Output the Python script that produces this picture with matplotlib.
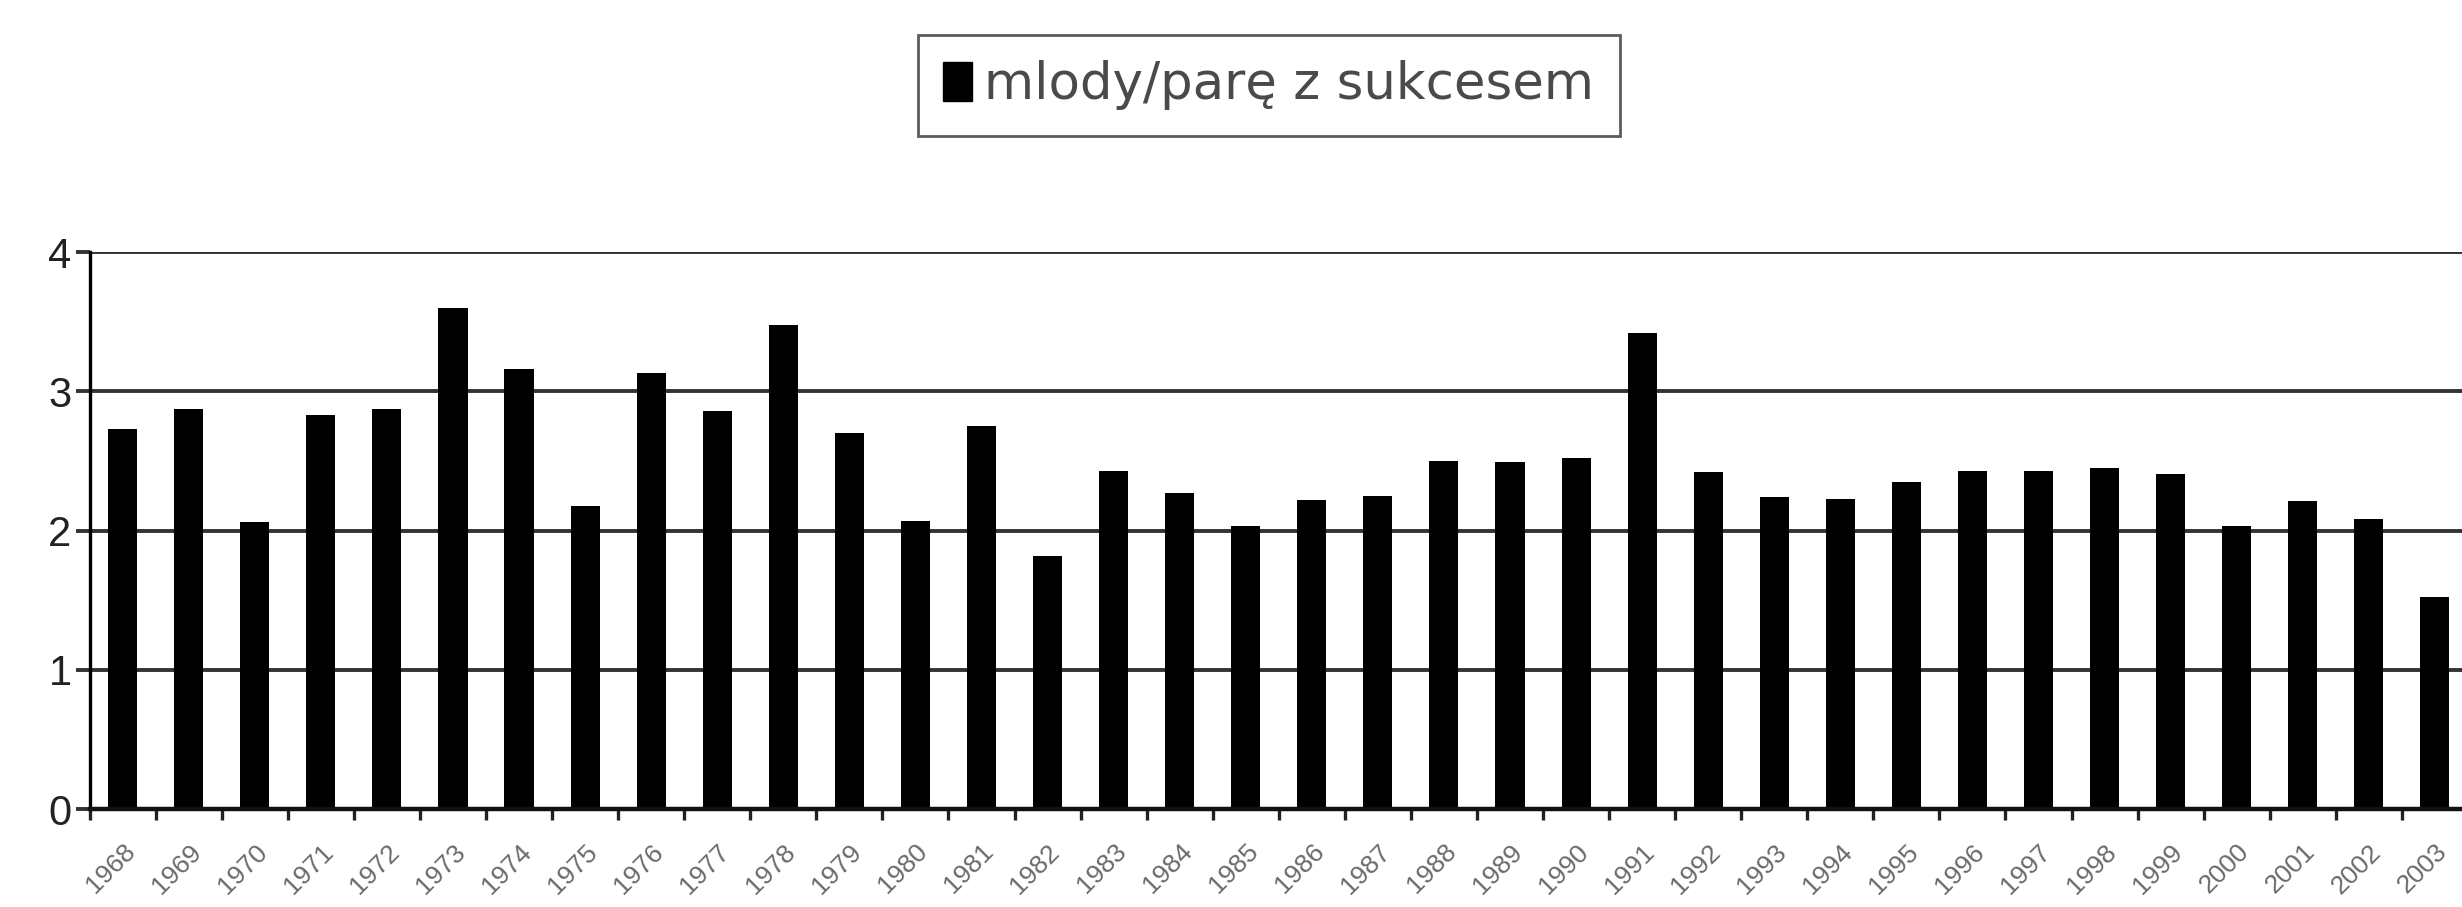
import numpy as np
import matplotlib
matplotlib.use("Agg")
import matplotlib.pyplot as plt
from matplotlib.patches import Patch

# lata i liczba mlodych na pare z sukcesem (odczyt z wykresu)
years = list(range(1968, 2004))
young = [2.73, 2.87, 2.06, 2.83, 2.87, 3.60, 3.16, 2.18, 3.13, 2.86,
         3.48, 2.70, 2.07, 2.75, 1.82, 2.43, 2.27, 2.03, 2.22, 2.25,
         2.50, 2.49, 2.52, 3.42, 2.42, 2.24, 2.23, 2.35, 2.43, 2.43,
         2.45, 2.41, 2.03, 2.21, 2.08, 1.52]
y_ticks = [0, 1, 2, 3, 4]
series_name = "mlody/parę z sukcesem"

fig = plt.figure(figsize=(24.62, 9.07), dpi=100)
fig.patch.set_facecolor("white")
ax = fig.add_axes([0.0364, 0.108, 0.966, 0.614])

x = np.arange(len(years))
ax.bar(x, young, width=0.44, color="black", zorder=3)

ax.set_xlim(-0.5, len(years) - 0.5)
ax.set_ylim(0, 4)

# siatka pozioma
ax.set_yticks(y_ticks)
ax.set_yticklabels([str(v) for v in y_ticks], fontsize=30,
                   family="Liberation Sans", color="#222222")
ax.yaxis.grid(True, color="#333333", linewidth=2.8, zorder=1)
ax.tick_params(axis="y", direction="out", length=10, width=2.8,
               color="#333333", pad=3)

# etykiety lat pod slupkami, znaczniki na granicach kategorii
ax.set_xticks(x)
ax.set_xticklabels([str(y) for y in years], rotation=45, ha="right",
                   va="top", rotation_mode="anchor", fontsize=19,
                   family="Liberation Sans", color="#6a6a6a")
ax.tick_params(axis="x", which="major", length=0, pad=22)
ax.set_xticks(np.arange(-0.5, len(years), 1.0), minor=True)
ax.tick_params(axis="x", which="minor", direction="out", length=8,
               width=2.4, color="#222222")

for s in ["top", "right"]:
    ax.spines[s].set_visible(False)
ax.spines["left"].set_linewidth(2.4)
ax.spines["left"].set_color("black")
ax.spines["bottom"].set_linewidth(3.2)
ax.spines["bottom"].set_color("#111111")
ax.spines["bottom"].set_zorder(4)

handle = Patch(facecolor="black", edgecolor="black")
leg = fig.legend([handle], [series_name], loc="center",
                 bbox_to_anchor=(0.5154, 0.906), fontsize=37,
                 frameon=True, fancybox=False, shadow=False,
                 handlelength=0.55, handleheight=0.8, handletextpad=0.25,
                 borderpad=0.5, borderaxespad=0)
leg.get_frame().set_edgecolor("#333333")
leg.get_frame().set_linewidth(2.0)
for t in leg.get_texts():
    t.set_color("#4a4a4a")

fig.savefig("out.png", dpi=100, facecolor="white")
